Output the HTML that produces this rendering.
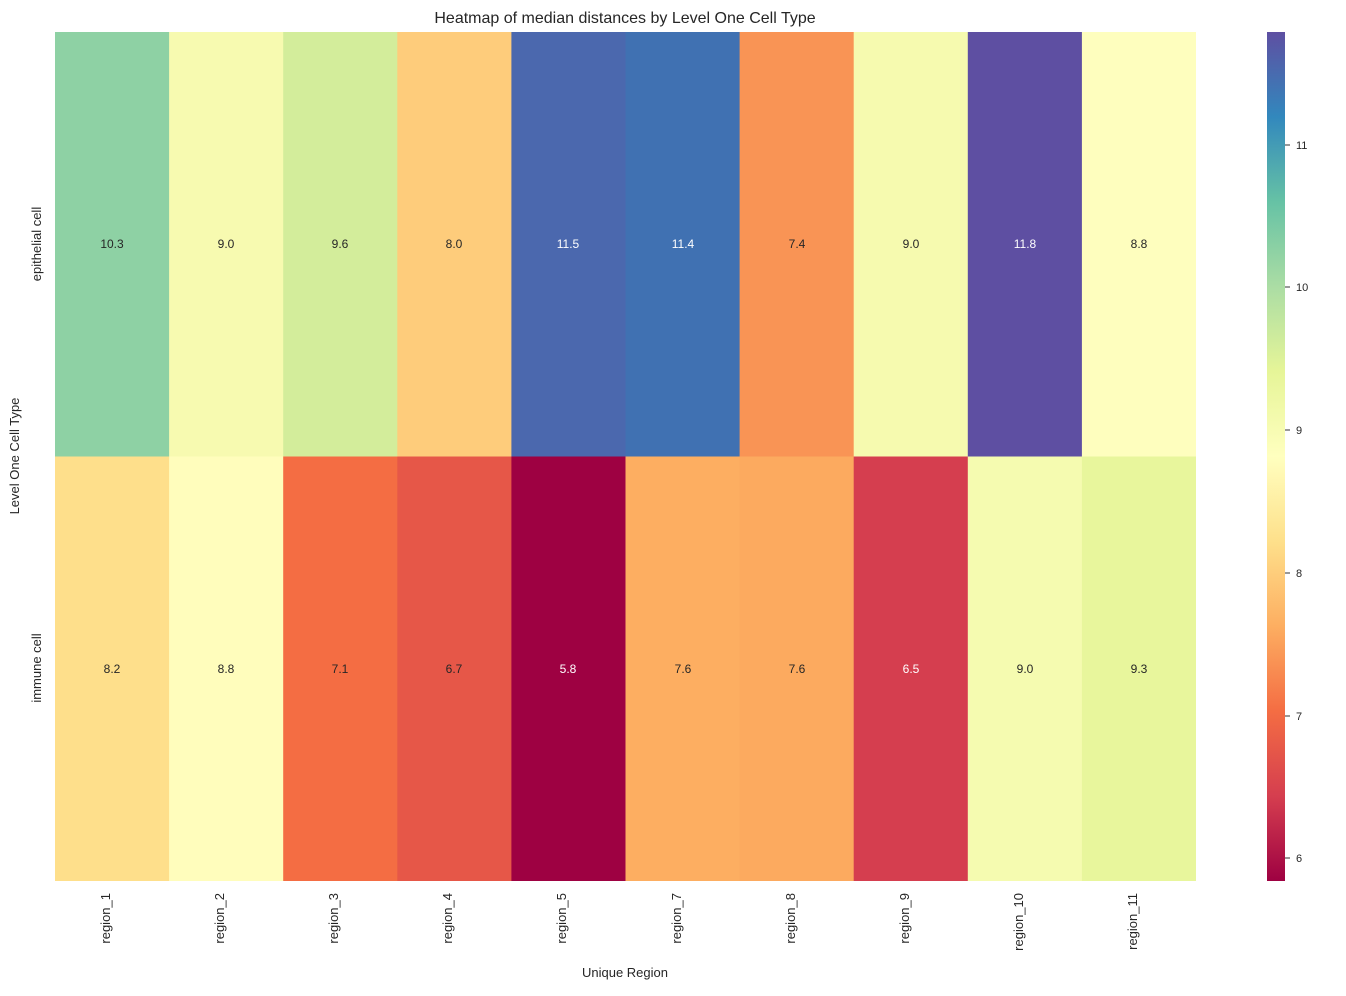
<!DOCTYPE html>
<html><head><style>
body{margin:0;background:#fff;font-family:"Liberation Sans","DejaVu Sans",sans-serif;}
svg text{font-family:"Liberation Sans","DejaVu Sans",sans-serif;fill:#262626;}
</style></head><body>
<svg width="1346" height="991" xmlns="http://www.w3.org/2000/svg">
<defs>
<linearGradient id="sp" x1="0" y1="1" x2="0" y2="0">
<stop offset="0" stop-color="#9e0142"/><stop offset="0.1" stop-color="#d53e4f"/><stop offset="0.2" stop-color="#f46d43"/><stop offset="0.3" stop-color="#fdae61"/><stop offset="0.4" stop-color="#fee08b"/><stop offset="0.5" stop-color="#ffffbf"/><stop offset="0.6" stop-color="#e6f598"/><stop offset="0.7" stop-color="#abdda4"/><stop offset="0.8" stop-color="#66c2a5"/><stop offset="0.9" stop-color="#3288bd"/><stop offset="1" stop-color="#5e4fa2"/>
</linearGradient>
</defs>
<text x="625" y="23" text-anchor="middle" font-size="16">Heatmap of median distances by Level One Cell Type</text>
<g>
<rect x="55" y="32" width="114.6" height="425" fill="#8ed1a4"/>
<rect x="169.1" y="32" width="114.6" height="425" fill="#f7fab0"/>
<rect x="283.2" y="32" width="114.6" height="425" fill="#d3ed9b"/>
<rect x="397.3" y="32" width="114.6" height="425" fill="#fecc7b"/>
<rect x="511.4" y="32" width="114.6" height="425" fill="#4b68ae"/>
<rect x="625.5" y="32" width="114.6" height="425" fill="#4071b2"/>
<rect x="739.6" y="32" width="114.6" height="425" fill="#f99455"/>
<rect x="853.7" y="32" width="114.6" height="425" fill="#f6faaf"/>
<rect x="967.8" y="32" width="114.6" height="425" fill="#5e4fa2"/>
<rect x="1081.9" y="32" width="114.1" height="425" fill="#fefebe"/>
<rect x="55" y="456.5" width="114.6" height="424.5" fill="#fedf8b"/>
<rect x="169.1" y="456.5" width="114.6" height="424.5" fill="#fffdbc"/>
<rect x="283.2" y="456.5" width="114.6" height="424.5" fill="#f46d43"/>
<rect x="397.3" y="456.5" width="114.6" height="424.5" fill="#e65748"/>
<rect x="511.4" y="456.5" width="114.6" height="424.5" fill="#9e0142"/>
<rect x="625.5" y="456.5" width="114.6" height="424.5" fill="#fdae61"/>
<rect x="739.6" y="456.5" width="114.6" height="424.5" fill="#fcaa5f"/>
<rect x="853.7" y="456.5" width="114.6" height="424.5" fill="#d53e4f"/>
<rect x="967.8" y="456.5" width="114.6" height="424.5" fill="#f5fbb0"/>
<rect x="1081.9" y="456.5" width="114.1" height="424.5" fill="#e8f69c"/>
</g>
<g font-size="12" text-anchor="middle">
<text x="112" y="248">10.3</text><text x="226" y="248">9.0</text><text x="340" y="248">9.6</text><text x="454" y="248">8.0</text>
<text x="568" y="248" style="fill:#fff">11.5</text><text x="683" y="248" style="fill:#fff">11.4</text><text x="797" y="248">7.4</text><text x="911" y="248">9.0</text>
<text x="1025" y="248" style="fill:#fff">11.8</text><text x="1139" y="248">8.8</text>
<text x="112" y="673">8.2</text><text x="226" y="673">8.8</text><text x="340" y="673">7.1</text><text x="454" y="673">6.7</text>
<text x="568" y="673" style="fill:#fff">5.8</text><text x="683" y="673">7.6</text><text x="797" y="673">7.6</text><text x="911" y="673" style="fill:#fff">6.5</text>
<text x="1025" y="673">9.0</text><text x="1139" y="673">9.3</text>
</g>
<g font-size="13" text-anchor="end">
<text transform="translate(110,893) rotate(-90)">region_1</text>
<text transform="translate(224,893) rotate(-90)">region_2</text>
<text transform="translate(338,893) rotate(-90)">region_3</text>
<text transform="translate(452,893) rotate(-90)">region_4</text>
<text transform="translate(566,893) rotate(-90)">region_5</text>
<text transform="translate(681,893) rotate(-90)">region_7</text>
<text transform="translate(795,893) rotate(-90)">region_8</text>
<text transform="translate(909,893) rotate(-90)">region_9</text>
<text transform="translate(1023,893) rotate(-90)">region_10</text>
<text transform="translate(1137,893) rotate(-90)">region_11</text>
</g>
<rect x="1267" y="32" width="18" height="849" fill="url(#sp)"/>
<g font-size="11">
<line x1="1285" x2="1290" y1="145" y2="145" stroke="#333"/><text x="1296" y="149">11</text>
<line x1="1285" x2="1290" y1="287" y2="287" stroke="#333"/><text x="1296" y="291">10</text>
<line x1="1285" x2="1290" y1="430" y2="430" stroke="#333"/><text x="1296" y="434">9</text>
<line x1="1285" x2="1290" y1="573" y2="573" stroke="#333"/><text x="1296" y="577">8</text>
<line x1="1285" x2="1290" y1="716" y2="716" stroke="#333"/><text x="1296" y="720">7</text>
<line x1="1285" x2="1290" y1="858" y2="858" stroke="#333"/><text x="1296" y="862">6</text>
</g>
<text transform="translate(41,244) rotate(-90)" text-anchor="middle" font-size="13">epithelial cell</text>
<text transform="translate(41,668) rotate(-90)" text-anchor="middle" font-size="13">immune cell</text>
<text transform="translate(19,456) rotate(-90)" text-anchor="middle" font-size="13">Level One Cell Type</text>
<text x="625" y="977" text-anchor="middle" font-size="13">Unique Region</text>
</svg>
</body></html>
